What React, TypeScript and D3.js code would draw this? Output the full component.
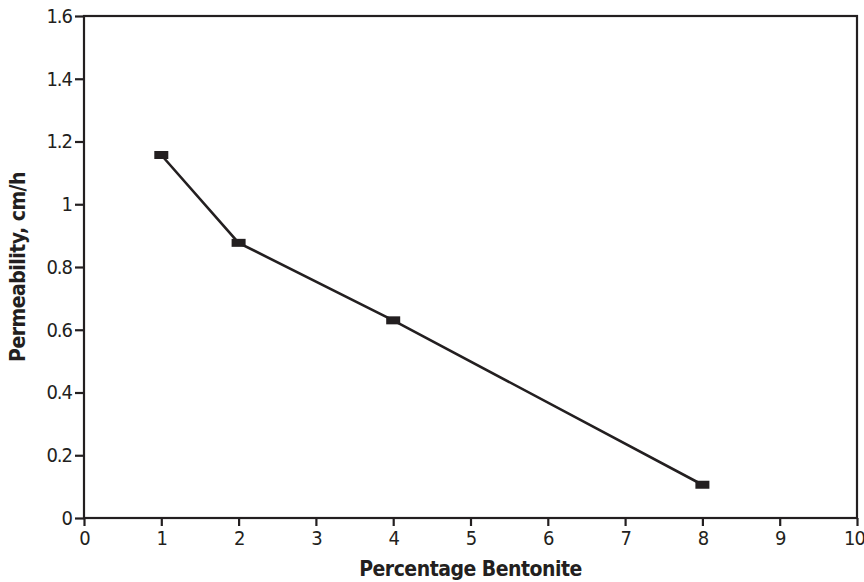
import { useEffect, useRef } from "react";
import * as d3 from "d3";

const bentonite = [1, 2, 4, 8];
const permeability = [1.157, 0.877, 0.63, 0.106];
const xTicks = [0, 1, 2, 3, 4, 5, 6, 7, 8, 9, 10];
const yTicks = [0, 0.2, 0.4, 0.6, 0.8, 1, 1.2, 1.4, 1.6];

const W = 864;
const H = 582;
const FONT = "'DejaVu Sans Condensed', 'DejaVu Sans', sans-serif";

export default function App() {
  const svgRef = useRef<SVGSVGElement>(null);

  useEffect(() => {
    if (!svgRef.current) return;
    const svg = d3.select(svgRef.current);
    svg.selectAll("*").remove();

    const margin = { top: 16, right: 7, bottom: 64, left: 84 };
    const x = d3.scaleLinear().domain([0, 10]).range([margin.left, W - margin.right]);
    const y = d3.scaleLinear().domain([0, 1.6]).range([H - margin.bottom, margin.top]);
    const ink = "#231f20";

    // frame
    svg
      .append("rect")
      .attr("x", x(0))
      .attr("y", y(1.6))
      .attr("width", x(10) - x(0))
      .attr("height", y(0) - y(1.6))
      .attr("fill", "none")
      .attr("stroke", ink)
      .attr("stroke-width", 2.2);

    const xAxis = svg
      .append("g")
      .attr("transform", `translate(0,${y(0)})`)
      .call(d3.axisBottom(x).tickValues(xTicks).tickSize(8).tickSizeOuter(0).tickPadding(5).tickFormat((d) => String(d)));
    xAxis.select(".domain").remove();
    // last label sits against the right edge
    xAxis.selectAll<SVGTextElement, number>(".tick text").filter((d) => d === 10).attr("dx", -3);

    const yAxis = svg
      .append("g")
      .attr("transform", `translate(${x(0)},0)`)
      .call(d3.axisLeft(y).tickValues(yTicks).tickSize(9).tickSizeOuter(0).tickPadding(3).tickFormat((d) => String(d)));
    yAxis.select(".domain").remove();

    svg.selectAll(".tick line").attr("stroke", ink).attr("stroke-width", 2.2);
    svg
      .selectAll(".tick text")
      .attr("fill", ink)
      .attr("font-family", FONT)
      .attr("font-stretch", "condensed")
      .attr("font-size", 20)
      .attr("letter-spacing", -1);

    const pts = bentonite.map((b, i) => [b, permeability[i]] as [number, number]);

    svg
      .append("path")
      .datum(pts)
      .attr("fill", "none")
      .attr("stroke", ink)
      .attr("stroke-width", 2.6)
      .attr("d", d3.line<[number, number]>().x((d) => x(d[0])).y((d) => y(d[1])));

    svg
      .append("g")
      .selectAll("rect")
      .data(pts)
      .join("rect")
      .attr("x", (d) => x(d[0]) - 7)
      .attr("y", (d) => y(d[1]) - 4)
      .attr("width", 14)
      .attr("height", 8)
      .attr("fill", ink);

    svg
      .append("text")
      .attr("x", (x(0) + x(10)) / 2)
      .attr("y", 576)
      .attr("text-anchor", "middle")
      .attr("font-family", FONT)
      .attr("font-stretch", "condensed")
      .attr("font-weight", "bold")
      .attr("font-size", 21)
      .attr("letter-spacing", -0.5)
      .attr("fill", ink)
      .text("Percentage Bentonite");

    svg
      .append("text")
      .attr("transform", `translate(25,${(y(0) + y(1.6)) / 2}) rotate(-90)`)
      .attr("text-anchor", "middle")
      .attr("font-family", FONT)
      .attr("font-stretch", "condensed")
      .attr("font-weight", "bold")
      .attr("font-size", 21)
      .attr("letter-spacing", -0.5)
      .attr("fill", ink)
      .text("Permeability, cm/h");
  }, []);

  return (
    <svg
      ref={svgRef}
      width={W}
      height={H}
      style={{ position: "absolute", left: 0, top: 0, background: "#fff" }}
    />
  );
}
